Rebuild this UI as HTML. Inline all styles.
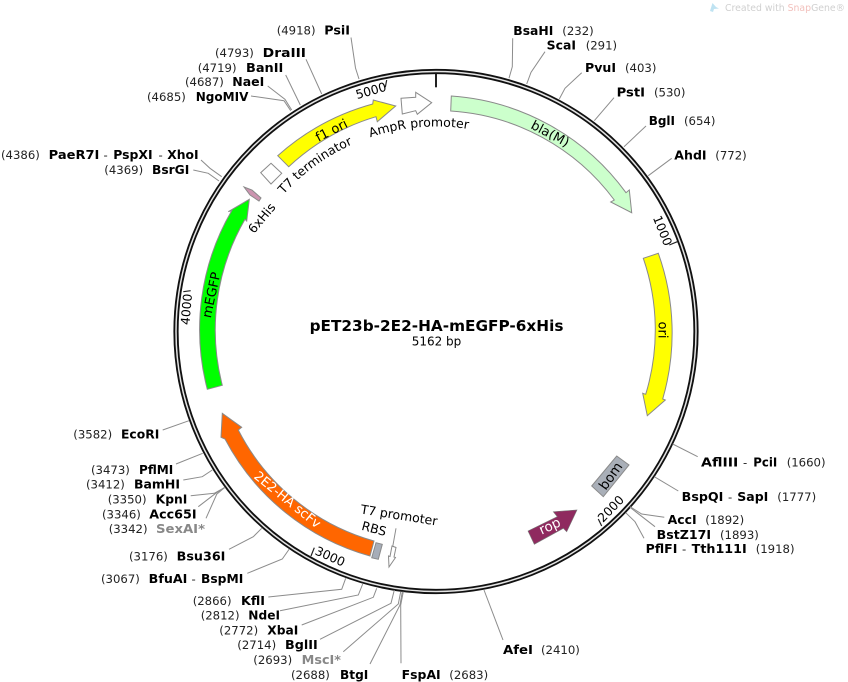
<!DOCTYPE html>
<html lang="en">
<head>
<meta charset="utf-8">
<title>pET23b-2E2-HA-mEGFP-6xHis</title>
<style>
html,body{margin:0;padding:0;background:#fff;width:848px;height:682px;overflow:hidden}
svg{display:block}
text{font-family:"DejaVu Sans","Liberation Sans",sans-serif;fill:#000}
.n{font-size:11.7px;fill:#222}
.b{font-size:12.2px;font-weight:bold;fill:#000}
.g{fill:#888}
.f{font-size:12.5px}
.c{fill:none;stroke:#8c8c8c;stroke-width:1}
.s{stroke:#8a8a8a;stroke-width:1}
</style>
</head>
<body>
<svg width="848" height="682" viewBox="0 0 848 682" xmlns="http://www.w3.org/2000/svg">
<defs><path id="ta" d="M231,331.5 A205,205 0 0 1 641,331.5"/></defs>

<!-- watermark -->
<path d="M710,11 L712.5,3 L716,7 L719,8.5 L714,9 L713,12 Z" fill="#bfe3f2"/>
<text x="725" y="11" textLength="120" lengthAdjust="spacingAndGlyphs" style="font-size:10px;fill:#d0d0d0">Created with <tspan style="fill:#f2c0bc">Snap</tspan>Gene®</text>

<!-- ring -->
<circle cx="436" cy="331.5" r="260" fill="none" stroke="#111" stroke-width="5.2"/>
<circle cx="436" cy="331.5" r="260" fill="none" stroke="#e4e4e4" stroke-width="1.5"/>

<!-- ticks -->
<g stroke="#222" stroke-width="1.2" fill="none">
<path d="M386.7,80 L385.3,87.3"/>
<path d="M669.3,245 L677.3,241.7"/>
<path d="M598.3,519 L601.7,526"/>
<path d="M314.3,547.7 L311,556"/>
<path d="M183.3,291.7 L190.7,290.7"/>
</g>
<path d="M436,74 L436,87.3" stroke="#222" stroke-width="2"/>
<g style="font-size:12.3px">
<text transform="translate(371,91) rotate(-16)" text-anchor="middle" y="4">5000</text>
<text transform="translate(662.3,230.7) rotate(68)" text-anchor="middle" y="4">1000</text>
<text transform="translate(611,509) rotate(-46)" text-anchor="middle" y="4">2000</text>
<text transform="translate(330,556.7) rotate(24)" text-anchor="middle" y="4">3000</text>
<text transform="translate(186.7,309.3) rotate(-85)" text-anchor="middle" y="4">4000</text>
</g>

<!-- features -->
<path class="s" fill="#ffff00" d="M277.7,155.7 A236,236 0 0 1 372.7,104 L373.3,100 L395.7,106 L377.3,121.7 L376,116.7 A221,221 0 0 0 288.7,166.7 Z"/>
<path class="s" fill="#ccffcc" d="M451.3,96 A236,236 0 0 1 626,192.7 L629.3,190 L631.7,212.7 L610.7,202 L614.3,200 A221,221 0 0 0 450.7,111 Z"/>
<path class="s" fill="#ffff00" d="M658.3,253.3 A236,236 0 0 1 662.7,399 L665.3,400 L647.3,415.7 L642.7,393.3 L645.7,394.3 A220.5,220.5 0 0 0 643.3,258.3 Z"/>
<path class="s" fill="#00ff00" d="M207.3,389.3 A236,236 0 0 1 231.7,210.7 L228.3,211.7 L249.3,199.3 L246.7,221 L245,219.3 A221,221 0 0 0 222.3,385.3 Z"/>
<path class="s" fill="#ff6600" d="M370,556 A235,235 0 0 1 225,439 L221,437.3 L222.3,413.3 L241.7,427.3 L238.3,430 A219,219 0 0 0 374,541 Z"/>
<path class="s" fill="#a6adb8" d="M376,542.7 L382.3,544.3 L378.3,559.3 L371.7,557.7 Z"/>
<path class="s" fill="#ffffff" d="M392,546 L396,547.5 L394,557 L395.5,557.5 L389,567 L388.5,556 L390,556.5 Z"/>
<path class="s" fill="#ffffff" d="M271,163.3 L281.7,173.3 L271,184 L260.7,172.7 Z"/>
<path class="s" fill="#ffffff" d="M401,98.3 L415.7,97.3 L415.7,92.3 L431.7,102.7 L417.3,114.3 L415.7,110.7 L402.3,114 Z"/>
<path class="s" fill="#cc94b0" d="M244,187 L252,190 L261,198 L259,201 L250,195 Z"/>
<path class="s" fill="#a9afb8" d="M616.7,456 L629,465 L603.3,496.7 L591.7,486 Z"/>
<path fill="#8f2a5f" stroke="#777" stroke-width=".6" d="M528,531 L557.3,516.7 L553.3,511.7 L577,510 L566.7,531.7 L563.3,528.3 L534.3,544.3 Z"/>

<!-- feature labels -->
<g class="f">
<text transform="translate(331.7,130.7) rotate(-27)" text-anchor="middle" y="4" style="font-size:13px">f1 ori</text>
<text transform="translate(550,134) rotate(28)" text-anchor="middle" y="4" style="font-size:13px">bla(M)</text>
<text transform="translate(662.3,330) rotate(90)" text-anchor="middle" y="4" style="font-size:13px">ori</text>
<text transform="translate(211.7,295) rotate(-78)" text-anchor="middle" y="4" style="font-size:13px">mEGFP</text>
<text transform="translate(287.3,500) rotate(39)" text-anchor="middle" y="4" style="fill:#fff;font-size:13px">2E2-HA scFv</text>
<text transform="translate(262,218.3) rotate(-50)" text-anchor="middle" y="4">6xHis</text>
<text transform="translate(399,515.5) rotate(9)" text-anchor="middle" y="4">T7 promoter</text>
<text transform="translate(374,529) rotate(15)" text-anchor="middle" y="4">RBS</text>
<text transform="translate(610.7,476) rotate(-55)" text-anchor="middle" y="4.5" style="font-size:13.5px">bom</text>
<text transform="translate(550,526.5) rotate(-25)" text-anchor="middle" y="4" style="fill:#fff;font-size:13.5px">rop</text>
<text><textPath href="#ta" startOffset="150">T7 terminator</textPath></text>
<text><textPath href="#ta" startOffset="255">AmpR promoter</textPath></text>
</g>

<!-- center -->
<text x="436.5" y="331" text-anchor="middle" style="font-size:15.3px;font-weight:bold">pET23b-2E2-HA-mEGFP-6xHis</text>
<text x="436.5" y="345.5" text-anchor="middle" style="font-size:12px">5162 bp</text>

<!-- connectors -->
<g class="c">
<polyline points="351,37.5 355.5,68 359,79"/>
<polyline points="306,59.3 321.7,94"/>
<polyline points="285.7,75 300.3,105"/>
<polyline points="267.7,86 285,99.3 291.7,110"/>
<polyline points="251,96 284,100.7 290.7,110.7"/>
<polyline points="201,160 210,168.3 221.7,176.7"/>
<polyline points="193.3,170 208.3,173.3 219,181"/>
<polyline points="512.7,38.3 512.3,66.7 509,78.3"/>
<polyline points="545,51.7 531,72.3 526.7,84"/>
<polyline points="581.7,72.7 565,88.3 559.3,99"/>
<polyline points="614,97.7 594.3,120.7"/>
<polyline points="646,126 624,146.7"/>
<polyline points="671.7,158.3 648.3,175.7"/>
<polyline points="672.7,444 697.7,456.7"/>
<polyline points="654.3,476.7 678.3,491"/>
<polyline points="630,506.7 641.7,514 664.3,517.3"/>
<polyline points="630,507.3 655,526.7"/>
<polyline points="625.7,512.7 635,521.7 644,538.3"/>
<polyline points="484,590 503,640"/>
<polyline points="162.7,430 189,420.7"/>
<polyline points="176,464 202.7,453.3"/>
<polyline points="183.3,480 202.3,476.7 212.3,470"/>
<polyline points="190.7,495.7 214.3,493.3 225,487.3"/>
<polyline points="198.3,506.7 215.7,493.3 225,487.3"/>
<polyline points="206,518.3 216.7,494.3 225,487.3"/>
<polyline points="229,549.3 253.3,536.7 261.7,528.3"/>
<polyline points="247.3,573.3 282.3,559 289.3,549"/>
<polyline points="268.3,597 341.7,589.3 345.7,578.3"/>
<polyline points="280,610.7 358.3,595 362.7,584"/>
<polyline points="301.7,625 373.3,597.3 376.7,588.3"/>
<polyline points="320,639.3 391,603.3 394.3,590"/>
<polyline points="343.3,651.7 398.3,604 400.7,591.7"/>
<polyline points="370,664 400,605 402.3,591.7"/>
<polyline points="401,663.3 400.7,605 403.3,591.7"/>
<polyline points="396,528.3 392.7,546.7"/>
</g>

<!-- enzyme labels: left-top -->
<text class="n" x="276.7" y="34.5">(4918)</text><text class="b" x="324.3" y="34.5" textLength="25.7" lengthAdjust="spacingAndGlyphs">PsiI</text>
<text class="n" x="215" y="57">(4793)</text><text class="b" x="262.7" y="57" textLength="43.3" lengthAdjust="spacingAndGlyphs">DraIII</text>
<text class="n" x="197.7" y="72">(4719)</text><text class="b" x="246" y="72" textLength="37.3" lengthAdjust="spacingAndGlyphs">BanII</text>
<text class="n" x="185" y="86">(4687)</text><text class="b" x="232.3" y="86" textLength="32" lengthAdjust="spacingAndGlyphs">NaeI</text>
<text class="n" x="147" y="101">(4685)</text><text class="b" x="195.7" y="101" textLength="52.7" lengthAdjust="spacingAndGlyphs">NgoMIV</text>
<text class="n" x="1" y="159">(4386)</text><text class="b" x="48.7" y="159" textLength="50.7" lengthAdjust="spacingAndGlyphs">PaeR7I</text><text class="n" x="103.5" y="159">-</text><text class="b" x="113.3" y="159" textLength="39.3" lengthAdjust="spacingAndGlyphs">PspXI</text><text class="n" x="158.5" y="159">-</text><text class="b" x="167.3" y="159" textLength="31.3" lengthAdjust="spacingAndGlyphs">XhoI</text>
<text class="n" x="104.3" y="174">(4369)</text><text class="b" x="152" y="174" textLength="37.3" lengthAdjust="spacingAndGlyphs">BsrGI</text>

<!-- right -->
<text class="b" x="513.3" y="35" textLength="40" lengthAdjust="spacingAndGlyphs">BsaHI</text><text class="n" x="562.3" y="35">(232)</text>
<text class="b" x="546.7" y="49.5" textLength="29.3" lengthAdjust="spacingAndGlyphs">ScaI</text><text class="n" x="585.7" y="49.5">(291)</text>
<text class="b" x="585" y="72" textLength="31" lengthAdjust="spacingAndGlyphs">PvuI</text><text class="n" x="625" y="72">(403)</text>
<text class="b" x="616.7" y="96.5" textLength="28.3" lengthAdjust="spacingAndGlyphs">PstI</text><text class="n" x="654" y="96.5">(530)</text>
<text class="b" x="648.7" y="125" textLength="26.3" lengthAdjust="spacingAndGlyphs">BglI</text><text class="n" x="684" y="125">(654)</text>
<text class="b" x="674.3" y="159.5" textLength="32.3" lengthAdjust="spacingAndGlyphs">AhdI</text><text class="n" x="715.3" y="159.5">(772)</text>
<text class="b" x="701" y="466.5" textLength="37.3" lengthAdjust="spacingAndGlyphs">AflIII</text><text class="n" x="743" y="466.5">-</text><text class="b" x="753.3" y="466.5" textLength="24" lengthAdjust="spacingAndGlyphs">PciI</text><text class="n" x="786.7" y="466.5">(1660)</text>
<text class="b" x="681.7" y="501" textLength="41.7" lengthAdjust="spacingAndGlyphs">BspQI</text><text class="n" x="728" y="501">-</text><text class="b" x="737.3" y="501" textLength="31" lengthAdjust="spacingAndGlyphs">SapI</text><text class="n" x="777.3" y="501">(1777)</text>
<text class="b" x="667.7" y="524" textLength="29" lengthAdjust="spacingAndGlyphs">AccI</text><text class="n" x="705.3" y="524">(1892)</text>
<text class="b" x="656.7" y="539" textLength="54.3" lengthAdjust="spacingAndGlyphs">BstZ17I</text><text class="n" x="720" y="539">(1893)</text>
<text class="b" x="645.7" y="553" textLength="31.7" lengthAdjust="spacingAndGlyphs">PflFI</text><text class="n" x="682" y="553">-</text><text class="b" x="691.7" y="553" textLength="55" lengthAdjust="spacingAndGlyphs">Tth111I</text><text class="n" x="755.7" y="553">(1918)</text>
<text class="b" x="503" y="654" textLength="30" lengthAdjust="spacingAndGlyphs">AfeI</text><text class="n" x="541" y="654">(2410)</text>

<!-- left-bottom -->
<text class="n" x="73.3" y="438.5">(3582)</text><text class="b" x="121" y="438.5" textLength="38.3" lengthAdjust="spacingAndGlyphs">EcoRI</text>
<text class="n" x="91" y="474">(3473)</text><text class="b" x="139" y="474" textLength="34.3" lengthAdjust="spacingAndGlyphs">PflMI</text>
<text class="n" x="86" y="488.5">(3412)</text><text class="b" x="134" y="488.5" textLength="46" lengthAdjust="spacingAndGlyphs">BamHI</text>
<text class="n" x="107.7" y="503.5">(3350)</text><text class="b" x="155.7" y="503.5" textLength="31.7" lengthAdjust="spacingAndGlyphs">KpnI</text>
<text class="n" x="102" y="518.5">(3346)</text><text class="b" x="149.3" y="518.5" textLength="47.3" lengthAdjust="spacingAndGlyphs">Acc65I</text>
<text class="n" x="108.7" y="533">(3342)</text><text class="b g" x="156" y="533" textLength="49" lengthAdjust="spacingAndGlyphs">SexAI*</text>
<text class="n" x="129" y="560.5">(3176)</text><text class="b" x="176.7" y="560.5" textLength="48.7" lengthAdjust="spacingAndGlyphs">Bsu36I</text>
<text class="n" x="101" y="583">(3067)</text><text class="b" x="148.7" y="583" textLength="38.7" lengthAdjust="spacingAndGlyphs">BfuAI</text><text class="n" x="191.5" y="583">-</text><text class="b" x="201" y="583" textLength="42.3" lengthAdjust="spacingAndGlyphs">BspMI</text>
<text class="n" x="192.7" y="605">(2866)</text><text class="b" x="241" y="605" textLength="24" lengthAdjust="spacingAndGlyphs">KflI</text>
<text class="n" x="200.7" y="619.5">(2812)</text><text class="b" x="248.3" y="619.5" textLength="31.7" lengthAdjust="spacingAndGlyphs">NdeI</text>
<text class="n" x="219.3" y="634.5">(2772)</text><text class="b" x="267.3" y="634.5" textLength="31" lengthAdjust="spacingAndGlyphs">XbaI</text>
<text class="n" x="237.3" y="649">(2714)</text><text class="b" x="285" y="649" textLength="32.7" lengthAdjust="spacingAndGlyphs">BglII</text>
<text class="n" x="253.3" y="664">(2693)</text><text class="b g" x="301.7" y="664" textLength="39.3" lengthAdjust="spacingAndGlyphs">MscI*</text>
<text class="n" x="291" y="679">(2688)</text><text class="b" x="340" y="679" textLength="28.3" lengthAdjust="spacingAndGlyphs">BtgI</text>
<text class="b" x="401.7" y="679" textLength="39" lengthAdjust="spacingAndGlyphs">FspAI</text><text class="n" x="449.3" y="679">(2683)</text>
</svg>
</body>
</html>
